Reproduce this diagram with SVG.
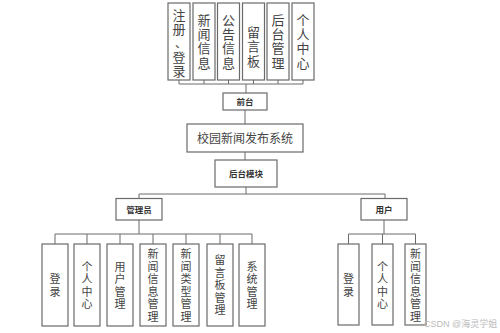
<svg xmlns="http://www.w3.org/2000/svg" width="500" height="333" viewBox="0 0 500 333">
<style>
.box{fill:#fff;stroke:#6a6a6a;stroke-width:1.2}
.ln{fill:none;stroke:#6a6a6a;stroke-width:1}
.t{font-family:"Noto Sans CJK SC",sans-serif;fill:#444;text-anchor:middle}
.v{writing-mode:vertical-rl;text-orientation:upright}
.top{font-size:13px;letter-spacing:1.3px}
.bot{font-size:11px;letter-spacing:1.5px}
.lbl{font-size:8.5px;font-weight:bold;fill:#333}
.sys{font-size:12px}
.wm{font-family:"Liberation Sans","Noto Sans CJK SC",sans-serif;font-size:9px;fill:#bbb}
</style>
<rect width="500" height="333" fill="#fff"/>
<g id="connectors" class="ln">
<path d="M179 80V84M204 80V84M228.5 80V84M253.5 80V84M278 80V84M303 80V84M179 84H303M246 84V93"/>
<path d="M245 110V124M245 152V160M246 187V194M139 194H385M139 194V199M385 194V198.5"/>
<path d="M139 220V234M55 234H252M55 234V244M87 234V244M120 234V244M153 234V244M186 234V244M220 234V244M252 234V244"/>
<path d="M384 220V234M348.5 234H415.5M348.5 234V244M382.5 234V244M415.5 234V244"/>
</g>
<g id="n-zhuce"><rect class="box" x="168" y="3" width="22" height="77"/><text class="t v top" x="179" y="23">注册</text><text class="t" style="font-size:12px" x="181" y="48">、</text><text class="t v top" x="179" y="65">登录</text></g>
<g id="n-xinwen"><rect class="box" x="193" y="3" width="22" height="77"/><text class="t v top" x="204" y="42">新闻信息</text></g>
<g id="n-gonggao"><rect class="box" x="217.5" y="3" width="22" height="77"/><text class="t v top" x="228.5" y="42">公告信息</text></g>
<g id="n-liuyan"><rect class="box" x="242.5" y="3" width="22" height="77"/><text class="t v top" x="253.5" y="47">留言板</text></g>
<g id="n-houtaiguanli"><rect class="box" x="267" y="3" width="22" height="77"/><text class="t v top" x="278" y="42">后台管理</text></g>
<g id="n-geren"><rect class="box" x="292" y="3" width="22" height="77"/><text class="t v top" x="303" y="42">个人中心</text></g>
<g id="n-qiantai"><rect class="box" x="223" y="93" width="44" height="17"/><text class="t lbl" x="245" y="104.5">前台</text></g>
<g id="n-system"><rect class="box" x="187" y="124" width="116" height="28"/><text class="t sys" x="245" y="142.5">校园新闻发布系统</text></g>
<g id="n-houtai"><rect class="box" x="215" y="160" width="62" height="27"/><text class="t lbl" x="246" y="176.5">后台模块</text></g>
<g id="n-admin"><rect class="box" x="116" y="198.5" width="46" height="21.5"/><text class="t lbl" x="139" y="212.5">管理员</text></g>
<g id="n-user"><rect class="box" x="361" y="198.5" width="46" height="21.5"/><text class="t lbl" x="384" y="212.5">用户</text></g>
<g id="a-denglu"><rect class="box" x="42" y="244" width="26" height="82"/><text class="t v bot" x="55" y="286">登录</text></g>
<g id="a-geren"><rect class="box" x="74" y="244" width="26" height="82"/><text class="t v bot" x="87" y="286">个人中心</text></g>
<g id="a-yonghu"><rect class="box" x="107" y="244" width="26" height="82"/><text class="t v bot" x="120" y="286">用户管理</text></g>
<g id="a-xinwen"><rect class="box" x="140" y="244" width="26" height="82"/><text class="t v bot" x="153" y="286">新闻信息管理</text></g>
<g id="a-leixing"><rect class="box" x="173" y="244" width="26" height="82"/><text class="t v bot" x="186" y="286">新闻类型管理</text></g>
<g id="a-liuyan"><rect class="box" x="207" y="244" width="26" height="82"/><text class="t v bot" x="220" y="286">留言板管理</text></g>
<g id="a-xitong"><rect class="box" x="239" y="244" width="26" height="82"/><text class="t v bot" x="252" y="286">系统管理</text></g>
<g id="u-denglu"><rect class="box" x="338" y="244" width="21" height="81"/><text class="t v bot" x="348.5" y="286">登录</text></g>
<g id="u-geren"><rect class="box" x="372" y="244" width="21" height="81"/><text class="t v bot" x="382.5" y="286">个人中心</text></g>
<g id="u-xinwen"><rect class="box" x="405" y="244" width="21" height="81"/><text class="t v bot" x="415.5" y="286">新闻信息管理</text></g>
<text class="wm" x="424" y="327">CSDN @海灵学姐</text>
</svg>
